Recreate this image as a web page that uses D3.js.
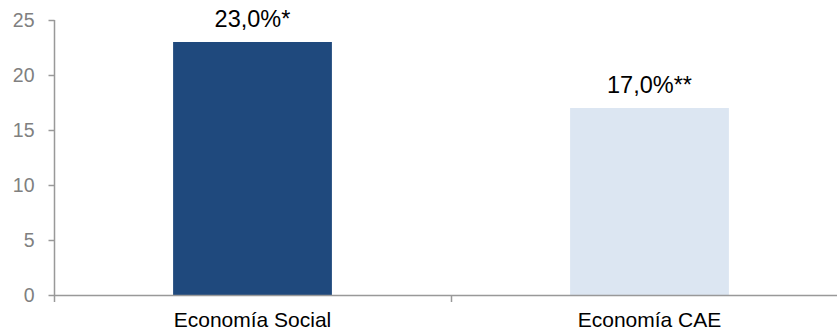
<!DOCTYPE html>
<html>
<head>
<meta charset="utf-8">
<script src="https://cdn.jsdelivr.net/npm/d3@7"></script>
<style>
  body { margin: 0; background: #fff; }
  svg { display: block; font-family: Arial, "Liberation Sans", sans-serif; }
</style>
</head>
<body>
<svg id="chart" width="837" height="333"></svg>
<script>
// data
const categories = ["Economía Social", "Economía CAE"];
const values = [23.0, 17.0];
const valueLabels = ["23,0%*", "17,0%**"];
const barColors = ["#1f497d", "#dce6f2"];
const yTicks = [0, 5, 10, 15, 20, 25];

const svg = d3.select("#chart");
const axisColor = "#999";

// scales
const x = d3.scaleBand()
  .domain(categories)
  .range([54, 848])
  .paddingInner(0)
  .paddingOuter(0);

const y = d3.scaleLinear()
  .domain([0, 25])
  .range([295, 20]);

const barW = x.bandwidth() * 0.4;

// bars
svg.selectAll(".bar")
  .data(categories)
  .enter().append("rect")
  .attr("class", "bar")
  .attr("x", d => x(d) + (x.bandwidth() - barW) / 2)
  .attr("y", (d, i) => y(values[i]))
  .attr("width", barW)
  .attr("height", (d, i) => y(0) - y(values[i]))
  .attr("fill", (d, i) => barColors[i]);

// value labels
svg.selectAll(".val")
  .data(categories)
  .enter().append("text")
  .attr("class", "val")
  .attr("x", d => x(d) + x.bandwidth() / 2)
  .attr("y", (d, i) => y(values[i]) - 15)
  .attr("text-anchor", "middle")
  .attr("font-size", 23.5)
  .attr("fill", "#000")
  .text((d, i) => valueLabels[i]);

// y axis
const yAxis = svg.append("g")
  .attr("transform", "translate(54.5,0)")
  .call(d3.axisLeft(y).tickValues(yTicks).tickSize(6).tickPadding(14));
yAxis.select(".domain").attr("stroke", axisColor).attr("stroke-width", 1.5)
  .attr("d", `M0,${y(25)}V${y(0)}`);
yAxis.selectAll(".tick line").attr("stroke", axisColor).attr("stroke-width", 1.5);
yAxis.selectAll(".tick text")
  .attr("font-size", 19.5)
  .attr("font-family", "Arial, 'Liberation Sans', sans-serif")
  .attr("fill", "#808080");

// x axis (ticks at band boundaries)
const xAxisG = svg.append("g");
xAxisG.append("line")
  .attr("x1", 54).attr("x2", 848)
  .attr("y1", y(0) + 0.5).attr("y2", y(0) + 0.5)
  .attr("stroke", axisColor).attr("stroke-width", 1.5);
const bounds = categories.map(d => x(d)).concat([x(categories[categories.length - 1]) + x.bandwidth()]);
xAxisG.selectAll(".xtick")
  .data(bounds)
  .enter().append("line")
  .attr("x1", d => d + 0.5).attr("x2", d => d + 0.5)
  .attr("y1", y(0)).attr("y2", y(0) + 7)
  .attr("stroke", axisColor).attr("stroke-width", 1.5);

// category labels
svg.selectAll(".cat")
  .data(categories)
  .enter().append("text")
  .attr("class", "cat")
  .attr("x", d => x(d) + x.bandwidth() / 2)
  .attr("y", 327)
  .attr("text-anchor", "middle")
  .attr("font-size", 21)
  .attr("fill", "#000")
  .text(d => d);
</script>
</body>
</html>
